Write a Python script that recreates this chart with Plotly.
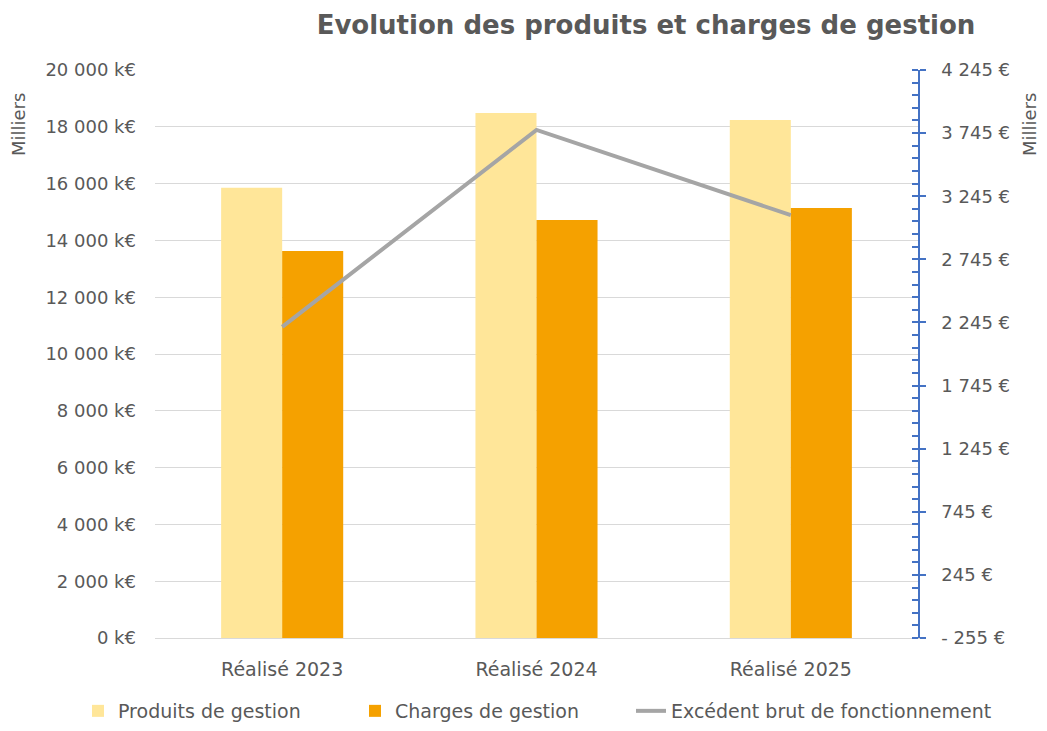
import plotly.graph_objects as go

categories = ["Réalisé 2023", "Réalisé 2024", "Réalisé 2025"]
produits = [15850, 18490, 18240]
charges = [13630, 14720, 15140]
excedent = [2210, 3770, 3095]

left_ticks = list(range(0, 20001, 2000))
right_ticks = list(range(-255, 4246, 500))

def fmt_k(v):
    return f"{v:,}".replace(",", " ") + " k€"

def fmt_e(v):
    if v < 0:
        return "- " + f"{-v:,}".replace(",", " ") + " €"
    return f"{v:,}".replace(",", " ") + " €"

FONT = "DejaVu Sans, sans-serif"
GRAY = "#595959"
W, H = 1031, 715  # page body has an 8px margin
OFF = 8

fig = go.Figure()
fig.add_trace(go.Bar(x=categories, y=produits, name="Produits de gestion",
                     marker=dict(color="#FFE699", line=dict(width=0)), legend="legend",
                     showlegend=True))
fig.add_trace(go.Bar(x=categories, y=charges, name="Charges de gestion",
                     marker=dict(color="#F5A100", line=dict(width=0)), legend="legend2",
                     showlegend=True))
fig.add_trace(go.Scatter(x=categories, y=excedent, name="Excédent brut de fonctionnement",
                         mode="lines", line=dict(color="#A5A5A5", width=4), yaxis="y2",
                         legend="legend3", showlegend=True))

L, R, T, B = 155 - OFF, W - (918 - OFF), 70 - OFF, H - (638 - OFF)
PW, PH = W - L - R, H - T - B

def leg(text_start):
    return dict(orientation="h", x=(text_start - OFF - 42) / W, xref="container",
                xanchor="left", y=(H - (711 - OFF)) / H, yref="container",
                yanchor="middle", font=dict(size=19, color=GRAY), itemwidth=30,
                bgcolor="rgba(0,0,0,0)", visible=True)

fig.update_layout(
    width=W, height=H,
    showlegend=True,
    margin=dict(l=L, r=R, t=T, b=B, autoexpand=False),
    paper_bgcolor="white", plot_bgcolor="white",
    font=dict(family=FONT, size=18, color=GRAY),
    barmode="group", bargap=0.52, bargroupgap=0,
    title=dict(text="<b>Evolution des produits et charges de gestion</b>",
               x=(646 - OFF) / W, xanchor="center", y=1 - (25 - OFF) / H, yanchor="middle",
               font=dict(family=FONT, size=26, color=GRAY)),
    xaxis=dict(showgrid=False, showline=True, linecolor="#D9D9D9", linewidth=1,
               ticks="", tickfont=dict(size=19, color=GRAY), ticklabelstandoff=14),
    yaxis=dict(range=[0, 20000], tickvals=left_ticks,
               ticktext=[fmt_k(v) for v in left_ticks],
               showgrid=True, gridcolor="#D9D9D9", gridwidth=1,
               zeroline=False, showline=False, ticks="",
               ticklabelstandoff=18,
               tickfont=dict(size=18, color=GRAY)),
    yaxis2=dict(overlaying="y", side="right", range=[-255, 4245],
                tickvals=right_ticks, ticktext=[fmt_e(v) for v in right_ticks],
                showgrid=False, zeroline=False, showline=True,
                linecolor="#4472C4", linewidth=1.5,
                ticks="outside", ticklen=6, tickcolor="#4472C4", tickwidth=1.5,
                minor=dict(dtick=100, tick0=-255, ticks="inside", ticklen=6,
                           tickcolor="#4472C4", tickwidth=1.5, showgrid=False),
                ticklabelstandoff=12,
                tickfont=dict(size=18, color=GRAY)),
    legend=leg(120),
    legend2=leg(397),
    legend3=leg(673),
    annotations=[
        dict(text="Milliers", textangle=-90, xref="paper", yref="paper",
             x=(18 - 155) / PW, y=(638 - 125) / PH, xanchor="center", yanchor="middle",
             showarrow=False, font=dict(size=18, color=GRAY)),
        dict(text="Milliers", textangle=-90, xref="paper", yref="paper",
             x=(1029 - 155) / PW, y=(638 - 125) / PH, xanchor="center", yanchor="middle",
             showarrow=False, font=dict(size=18, color=GRAY)),
    ],
)

fig.write_html("out.html")
